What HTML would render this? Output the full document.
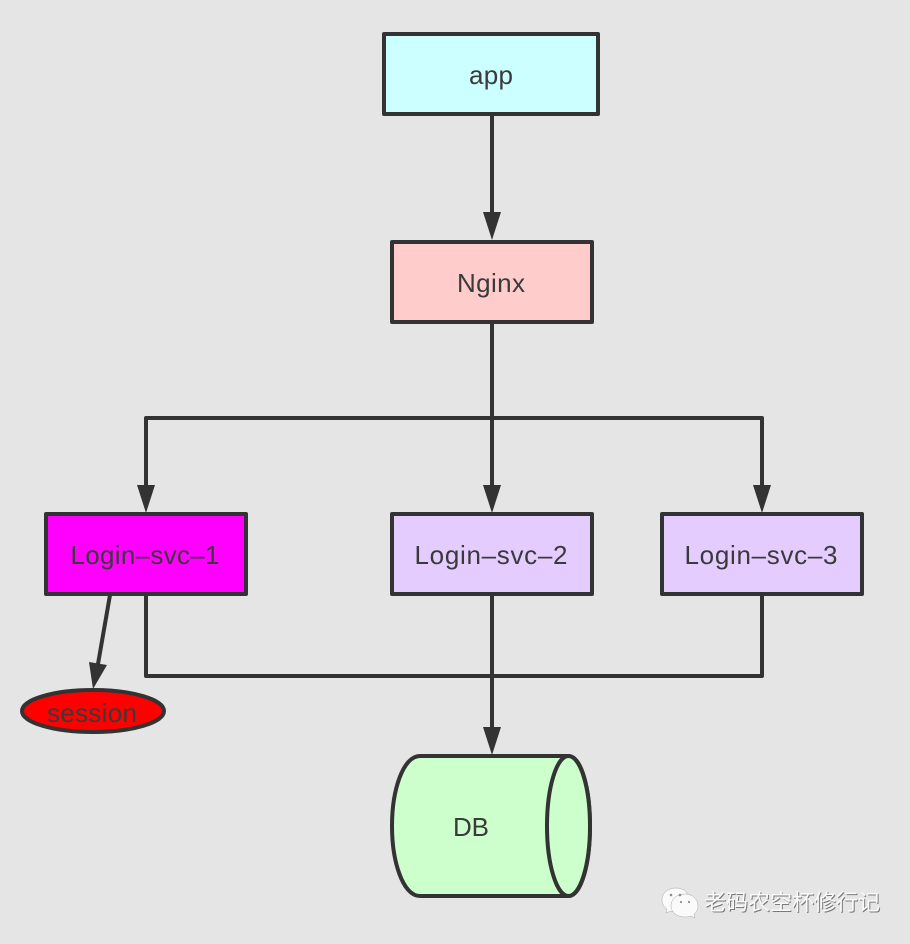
<!DOCTYPE html>
<html><head><meta charset="utf-8"><style>
html,body{margin:0;padding:0;background:#e5e5e5;width:910px;height:944px;overflow:hidden}
svg{display:block}
text{font-family:"Liberation Sans","Noto Sans CJK SC",sans-serif;fill:#3a3a3a;text-anchor:middle}
</style></head><body>
<svg width="910" height="944" viewBox="0 0 910 944" xmlns="http://www.w3.org/2000/svg">
<rect width="910" height="944" fill="#e5e5e5"/>
<g fill="none" stroke="#333" stroke-width="4" stroke-linejoin="round">
<path d="M492 114V214"/>
<path d="M492 322V488"/>
<path d="M146 488V418H762V488"/>
<path d="M146 594V676H762V594"/>
<path d="M492 594V728"/>
<path d="M110 595L98 664"/>
</g>
<g fill="#333" stroke="none">
<path d="M483 212H501L492 240Z"/>
<path d="M483 485H501L492 513Z"/>
<path d="M137 485H155L146 513Z"/>
<path d="M753 485H771L762 513Z"/>
<path d="M483 727H501L492 755Z"/>
<path d="M89 662L107 665L93 689Z"/>
</g>
<g stroke="#333" stroke-width="4" stroke-linejoin="round">
<rect x="384" y="34" width="214" height="80" fill="#ccffff"/>
<rect x="392" y="242" width="200" height="80" fill="#ffcccc"/>
<rect x="46" y="514" width="200" height="80" fill="#ff00ff"/>
<rect x="392" y="514" width="200" height="80" fill="#e5ccff"/>
<rect x="662" y="514" width="200" height="80" fill="#e5ccff"/>
<ellipse cx="93" cy="711" rx="71" ry="21" fill="#ff0000"/>
<path d="M420 756H568C582 756 590 790 590 826C590 862 582 896 568 896H420C403 896 392 862 392 826C392 790 403 756 420 756Z" fill="#ccffcc"/>
<ellipse cx="568.500" cy="826" rx="21.500" ry="70" fill="#ccffcc"/>
</g>
<g font-size="26">
<text x="491" y="84" textLength="44">app</text>
<text x="491" y="292" textLength="68">Nginx</text>
<text x="145" y="564" textLength="149">Login–svc–1</text>
<text x="491" y="564" textLength="153">Login–svc–2</text>
<text x="761" y="564" textLength="153">Login–svc–3</text>
<text x="92" y="722" textLength="90">session</text>
<text x="471" y="836" textLength="36">DB</text>
</g>
<g fill="#fafafa" stroke="#a8a8a8" stroke-width="0.5">
<path d="M676 888C668 888 662 893 662 900C662 904 664 907 667 909L666 913L671 911C673 912 675 912 677 912L690 898C688 892 683 888 676 888Z"/>
<path d="M685 894C677 894 671 899 671 906C671 912 677 917 685 917C687 917 689 917 691 916L695 918L694 914C697 912 698 909 698 906C698 899 692 894 685 894Z"/>
</g>
<g fill="#8c8c8c">
<circle cx="671" cy="895" r="1.300"/><circle cx="680" cy="895" r="1.300"/>
<circle cx="681" cy="902" r="1.100"/><circle cx="689" cy="902" r="1.100"/>
</g>
<text x="793" y="911" font-size="22" style="fill:#7a7a7a">老码农空杯修行记</text>
<text x="792" y="910" font-size="22" style="fill:#fafafa">老码农空杯修行记</text>
</svg>
</body></html>
